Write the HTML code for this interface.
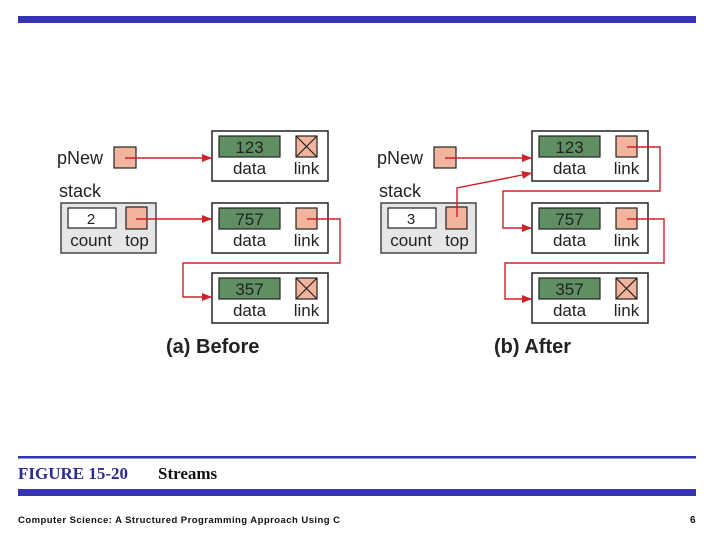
<!DOCTYPE html>
<html><head><meta charset="utf-8"><style>
html,body{margin:0;padding:0;background:#fff;}
svg{display:block;}
</style></head><body>
<svg width="720" height="540" viewBox="0 0 720 540" xmlns="http://www.w3.org/2000/svg" font-family="Liberation Sans, Arial, sans-serif">
<defs>
<marker id="ah" markerWidth="10" markerHeight="8" refX="10" refY="4" orient="auto" markerUnits="userSpaceOnUse">
<path d="M0,0 L10,4 L0,8 Z" fill="#cc2229"/>
</marker>
<g id="node">
<rect x="0" y="0" width="116" height="50" fill="#fff" stroke="#222" stroke-width="1.5"/>
<rect x="7" y="5" width="61" height="21" fill="#5f8f62" stroke="#222" stroke-width="1.2"/>
<rect x="84" y="5" width="21" height="21" fill="#f2b49c" stroke="#222" stroke-width="1.2"/>
<text x="37.5" y="43" font-size="17" text-anchor="middle" fill="#222">data</text>
<text x="94.5" y="43" font-size="17" text-anchor="middle" fill="#222">link</text>
</g>
<g id="x"><path d="M84,5 L105,26 M105,5 L84,26" stroke="#222" stroke-width="1.2"/></g>
<g id="stk">
<rect x="0" y="0" width="95" height="50" fill="#e6e6e6" stroke="#444" stroke-width="1.5"/>
<rect x="7" y="5" width="48" height="20" fill="#fff" stroke="#222" stroke-width="1.2"/>
<rect x="65" y="4" width="21" height="22" fill="#f2b49c" stroke="#222" stroke-width="1.2"/>
<text x="30" y="43" font-size="17" text-anchor="middle" fill="#222">count</text>
<text x="76" y="43" font-size="17" text-anchor="middle" fill="#222">top</text>
</g>
</defs>
<rect x="18" y="16" width="678" height="7" fill="#3333b3"/>

<!-- Left panel -->
<g transform="translate(212,131)"><use href="#node"/><use href="#x"/><text x="37.5" y="22" font-size="17" text-anchor="middle" fill="#222">123</text></g>
<g transform="translate(212,203)"><use href="#node"/><text x="37.5" y="22" font-size="17" text-anchor="middle" fill="#222">757</text></g>
<g transform="translate(212,273)"><use href="#node"/><use href="#x"/><text x="37.5" y="22" font-size="17" text-anchor="middle" fill="#222">357</text></g>
<text x="57" y="164" font-size="18" fill="#222">pNew</text>
<rect x="114" y="147" width="22" height="21" fill="#f2b49c" stroke="#222" stroke-width="1.2"/>
<text x="59" y="197" font-size="18" fill="#222">stack</text>
<g transform="translate(61,203)"><use href="#stk"/><text x="30" y="21" font-size="15" text-anchor="middle" fill="#222">2</text></g>
<g fill="none" stroke="#cc2229" stroke-width="1.4">
<path d="M125,158 H212" marker-end="url(#ah)"/>
<path d="M136,219 H212" marker-end="url(#ah)"/>
<path d="M307,219 H340 V263 H183 V297 H212" marker-end="url(#ah)"/>
</g>

<!-- Right panel -->
<g transform="translate(532,131)"><use href="#node"/><text x="37.5" y="22" font-size="17" text-anchor="middle" fill="#222">123</text></g>
<g transform="translate(532,203)"><use href="#node"/><text x="37.5" y="22" font-size="17" text-anchor="middle" fill="#222">757</text></g>
<g transform="translate(532,273)"><use href="#node"/><use href="#x"/><text x="37.5" y="22" font-size="17" text-anchor="middle" fill="#222">357</text></g>
<text x="377" y="164" font-size="18" fill="#222">pNew</text>
<rect x="434" y="147" width="22" height="21" fill="#f2b49c" stroke="#222" stroke-width="1.2"/>
<text x="379" y="197" font-size="18" fill="#222">stack</text>
<g transform="translate(381,203)"><use href="#stk"/><text x="30" y="21" font-size="15" text-anchor="middle" fill="#222">3</text></g>
<g fill="none" stroke="#cc2229" stroke-width="1.4">
<path d="M445,158 H532" marker-end="url(#ah)"/>
<path d="M457,217 V188 L532,173" marker-end="url(#ah)"/>
<path d="M627,147 H660 V191 H503 V228 H532" marker-end="url(#ah)"/>
<path d="M627,219 H664 V263 H505 V299 H532" marker-end="url(#ah)"/>
</g>

<text x="166" y="353" font-size="20" font-weight="bold" fill="#222">(a) Before</text>
<text x="494" y="353" font-size="20" font-weight="bold" fill="#222">(b) After</text>

<rect x="18" y="456" width="678" height="2.5" fill="#3333b3"/>
<text x="18" y="479" font-family="Liberation Serif, serif" font-size="17" font-weight="bold" fill="#2b2b8f">FIGURE 15-20</text>
<text x="158" y="479" font-family="Liberation Serif, serif" font-size="17" font-weight="bold" fill="#111">Streams</text>
<rect x="18" y="489" width="678" height="7" fill="#3333b3"/>
<text x="18" y="523" font-size="9.5" font-weight="bold" fill="#111" textLength="322">Computer Science: A Structured Programming Approach Using C</text>
<text x="690" y="523" font-size="10" font-weight="bold" fill="#111">6</text>
</svg>
</body></html>
